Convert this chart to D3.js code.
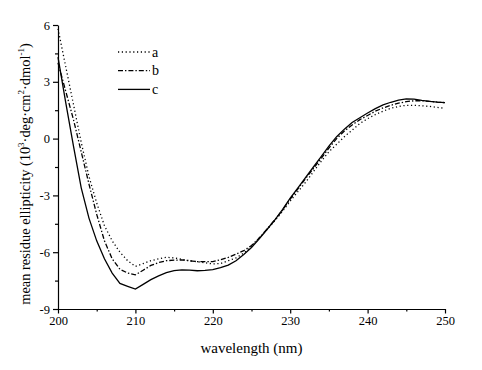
<!DOCTYPE html>
<html lang="en">
<meta charset="utf-8">
<style>
body { margin: 0; background: #fff; }
svg text { font-family: "Liberation Serif", "Times New Roman", serif; fill: #000; }
.axis path, .axis line { stroke: #000; stroke-width: 1.2px; }
.curve { fill: none; stroke: #000; stroke-width: 1.3px; }
</style>
<body>
<div id="chart"></div>
<script src="https://cdn.jsdelivr.net/npm/d3@7"></script>
<script>
"use strict";

// wavelengths 200..250 nm, one point per nm
const wavelength = [200,201,202,203,204,205,206,207,208,209,210,211,212,213,214,215,216,217,218,219,220,
  221,222,223,224,225,226,227,228,229,230,231,232,233,234,235,236,237,238,239,240,
  241,242,243,244,245,246,247,248,249,250];

const seriesA = [5.8,3.8,1.8,-0.2,-2.0,-3.4,-4.6,-5.4,-6.0,-6.45,-6.75,-6.6,-6.45,-6.35,-6.27,-6.3,-6.38,-6.45,-6.5,-6.56,-6.62,
  -6.6,-6.45,-6.3,-6.05,-5.7,-5.25,-4.8,-4.35,-3.85,-3.3,-2.8,-2.3,-1.75,-1.2,-0.7,-0.3,0.1,0.45,0.8,1.05,
  1.27,1.45,1.6,1.7,1.76,1.76,1.73,1.7,1.65,1.6];

const seriesB = [4.0,2.5,1.0,-0.7,-2.4,-4.0,-5.4,-6.35,-6.9,-7.1,-7.2,-6.95,-6.7,-6.55,-6.45,-6.42,-6.41,-6.45,-6.5,-6.5,-6.5,
  -6.4,-6.27,-6.1,-5.92,-5.65,-5.25,-4.78,-4.3,-3.78,-3.2,-2.65,-2.1,-1.58,-1.05,-0.5,0.0,0.4,0.72,1.0,1.22,
  1.45,1.62,1.76,1.87,1.95,2.0,2.0,1.97,1.93,1.9];

const seriesC = [4.3,1.9,-0.4,-2.6,-4.2,-5.4,-6.35,-7.1,-7.65,-7.8,-7.95,-7.7,-7.45,-7.25,-7.08,-6.97,-6.93,-6.95,-6.98,-6.96,-6.92,
  -6.82,-6.68,-6.45,-6.12,-5.75,-5.3,-4.8,-4.3,-3.75,-3.15,-2.6,-2.05,-1.5,-0.95,-0.4,0.1,0.5,0.85,1.1,1.35,
  1.58,1.78,1.92,2.03,2.1,2.08,2.02,1.97,1.93,1.9];

const seriesNames = ["a", "b", "c"];
const dashes = ["1.2,2.6", "5,2,1.4,2", null];
const xTicks = [200, 210, 220, 230, 240, 250];
const yTicks = [-9, -6, -3, 0, 3, 6];

const W = 482, H = 370;
const margin = {top: 25, right: 37, bottom: 61, left: 58};
const width = W - margin.left - margin.right;
const height = H - margin.top - margin.bottom;

const svg = d3.select("#chart").append("svg")
    .attr("width", W)
    .attr("height", H);

const g = svg.append("g")
    .attr("transform", "translate(" + margin.left + "," + margin.top + ")");

const x = d3.scaleLinear().domain([200, 250]).range([0, width]);
const y = d3.scaleLinear().domain([-9, 6]).range([height, 0]);

// minor ticks first, then the main axes on top
g.append("g")
    .attr("class", "axis")
    .attr("transform", "translate(0," + height + ")")
    .call(d3.axisBottom(x).tickValues(d3.range(205, 250, 10)).tickSize(2.5).tickFormat(""))
    .select(".domain").remove();
g.append("g")
    .attr("class", "axis")
    .call(d3.axisLeft(y).tickValues(d3.range(-7.5, 6, 3)).tickSize(3).tickFormat(""))
    .select(".domain").remove();

const xAxis = g.append("g")
    .attr("class", "axis")
    .attr("transform", "translate(0," + height + ")")
    .call(d3.axisBottom(x).tickValues(xTicks).tickSize(4.5).tickSizeOuter(0).tickPadding(3));
xAxis.selectAll("text").style("font-size", "12.5px");

const yAxis = g.append("g")
    .attr("class", "axis")
    .call(d3.axisLeft(y).tickValues(yTicks).tickSize(5).tickSizeOuter(0).tickPadding(3)
      .tickFormat(d => String(d)));
yAxis.selectAll("text").style("font-size", "12.5px");

// curves
const allSeries = [seriesA, seriesB, seriesC];
const line = d3.line()
    .x((d, i) => x(wavelength[i]))
    .y(d => y(d));

allSeries.forEach(function(s, k) {
  g.append("path")
      .datum(s)
      .attr("class", "curve")
      .attr("d", line)
      .attr("stroke-dasharray", dashes[k]);
});

// legend
const legend = g.append("g").attr("transform", "translate(60,27)");
seriesNames.forEach(function(name, k) {
  const row = legend.append("g").attr("transform", "translate(0," + (k * 18.7) + ")");
  row.append("line")
      .attr("class", "curve")
      .attr("x1", 0).attr("x2", 32)
      .attr("y1", 0).attr("y2", 0)
      .attr("stroke-dasharray", dashes[k]);
  row.append("text")
      .attr("x", 34)
      .attr("y", 4.5)
      .style("font-size", "14px")
      .text(name);
});

// axis titles
svg.append("text")
    .attr("x", margin.left + width / 2)
    .attr("y", 353)
    .attr("text-anchor", "middle")
    .style("font-size", "15px")
    .text("wavelength (nm)");

const yTitle = svg.append("text")
    .attr("transform", "translate(30," + (margin.top + height / 2 + 7) + ") rotate(-90)")
    .attr("text-anchor", "middle")
    .style("font-size", "14.4px");
yTitle.append("tspan").text("mean residue ellipticity (10");
yTitle.append("tspan").attr("dy", -6).style("font-size", "9px").text("3");
yTitle.append("tspan").attr("dy", 6).text("\u00b7deg\u00b7cm");
yTitle.append("tspan").attr("dy", -6).style("font-size", "9px").text("2");
yTitle.append("tspan").attr("dy", 6).text("\u00b7dmol");
yTitle.append("tspan").attr("dy", -6).style("font-size", "9px").text("-1");
yTitle.append("tspan").attr("dy", 6).text(")");
</script>
</body>
</html>
